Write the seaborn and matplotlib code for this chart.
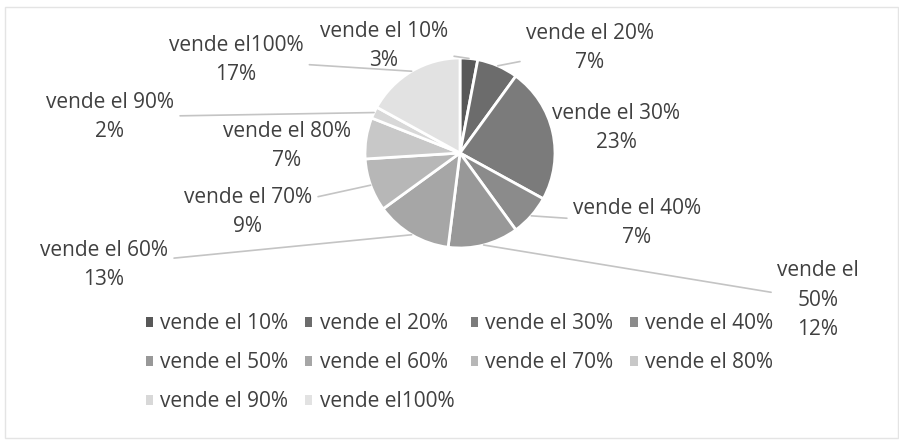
import numpy as np
import matplotlib.pyplot as plt
import matplotlib.patches as mpatches
import seaborn as sns

categories = ["vende el 10%", "vende el 20%", "vende el 30%", "vende el 40%",
              "vende el 50%", "vende el 60%", "vende el 70%", "vende el 80%",
              "vende el 90%", "vende el100%"]
shares = [3, 7, 23, 7, 12, 13, 9, 7, 2, 17]
slice_labels = ["vende el 10%\n3%", "vende el 20%\n7%", "vende el 30%\n23%",
                "vende el 40%\n7%", "vende el\n50%\n12%", "vende el 60%\n13%",
                "vende el 70%\n9%", "vende el 80%\n7%", "vende el 90%\n2%",
                "vende el100%\n17%"]
colors = ["#585858", "#6c6c6c", "#7b7b7b", "#8b8b8b", "#989898",
          "#a6a6a6", "#b7b7b7", "#c8c8c8", "#d8d8d8", "#e2e2e2"]

W, H = 899, 441
# label centres in pixels (from top-left), and whether a leader line is drawn
label_pos = [(384, 46), (590, 48), (616, 128), (637, 223), (818, 300),
             (104, 265), (248, 212), (287, 146), (110, 117), (236, 60)]
leader = [True, True, False, True, True, True, True, False, True, True]


def main():
    sns.set_theme(style="white")
    plt.rcParams["font.family"] = ["Open Sans", "DejaVu Sans"]

    fig = plt.figure(figsize=(W / 100, H / 100), dpi=100)
    ax = fig.add_axes([0, 0, 1, 1])

    cx, cy, r = 460, H - 153, 95
    wedges, _ = ax.pie(shares, colors=colors, startangle=90, counterclock=False,
                       center=(cx, cy), radius=r, frame=True,
                       wedgeprops=dict(edgecolor="white", linewidth=2))
    ax.set_xlim(0, W)
    ax.set_ylim(0, H)
    ax.axis("off")

    # chart border
    ax.add_patch(mpatches.Rectangle((5, 3), W - 6, H - 10, fill=False,
                                    edgecolor="#e4e4e4", linewidth=1))

    for w, lab, (px, py), ln in zip(wedges, slice_labels, label_pos, leader):
        ang = np.deg2rad((w.theta1 + w.theta2) / 2)
        ex, ey = cx + r * np.cos(ang), cy + r * np.sin(ang)
        props = dict(arrowstyle="-", color="#c4c4c4", lw=1.2,
                     shrinkA=2, shrinkB=0) if ln else None
        ax.annotate(lab, xy=(ex, ey), xytext=(px, H - py), ha="center",
                    va="center", fontsize=15, color="#404040",
                    linespacing=1.55, arrowprops=props)

    # row-major order for a 4-column legend
    order = [0, 4, 8, 1, 5, 9, 2, 6, 3, 7]
    handles = [mpatches.Patch(facecolor=colors[i], edgecolor="none") for i in order]
    fig.legend(handles, [categories[i] for i in order], loc="upper left",
               bbox_to_anchor=(0.162, 0.29), ncol=4, frameon=False, fontsize=15,
               handlelength=0.35, handleheight=0.35, handletextpad=0.35,
               columnspacing=0.8, labelspacing=0.87, labelcolor="#404040",
               borderaxespad=0, borderpad=0)

    fig.savefig("out.png", dpi=100, facecolor="white")
    plt.close(fig)


if __name__ == "__main__":
    main()
